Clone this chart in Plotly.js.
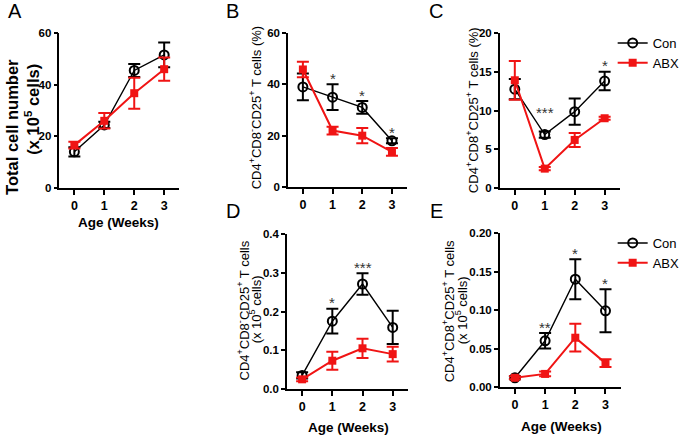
<!DOCTYPE html>
<html>
<head>
<meta charset="utf-8">
<script src="https://cdn.plot.ly/plotly-3.0.1.min.js"></script>
<style>
html,body{margin:0;padding:0;background:#fff;}
#chart{width:685px;height:435px;}
</style>
</head>
<body>
<div id="chart"></div>
<script>
// ---- data ----
const weeks = [0, 1, 2, 3];
const weekLabels = ['0', '1', '2', '3'];
const groupNames = ['Con', 'ABX'];

// Panel A: total cell number (x 10^5 cells)
const conA = [14, 24.4, 45.5, 51.5];
const conAErr = [1.8, 1.2, 2.5, 4.8];
const abxA = [16.6, 26, 36.7, 46];
const abxAErr = [1.3, 3, 6, 4.5];

// Panel B: CD4+CD8-CD25+ T cells (%)
const conB = [39, 35, 31, 18];
const conBErr = [5.2, 5, 2.5, 1];
const abxB = [45.8, 22, 20, 13.7];
const abxBErr = [3, 1.5, 3, 1.5];
const starsB = ['', '*', '*', '*'];

// Panel C: CD4+CD8+CD25+ T cells (%)
const conC = [12.75, 6.9, 9.85, 13.8];
const conCErr = [1.3, 0.4, 1.7, 1.2];
const abxC = [13.9, 2.5, 6.2, 9.0];
const abxCErr = [2.5, 0.2, 0.9, 0.2];
const starsC = ['', '***', '', '*'];

// Panel D: CD4+CD8-CD25+ T cells (x 10^5 cells)
const conD = [0.035, 0.175, 0.271, 0.159];
const conDErr = [0.008, 0.032, 0.028, 0.043];
const abxD = [0.025, 0.073, 0.105, 0.09];
const abxDErr = [0.005, 0.023, 0.025, 0.019];
const starsD = ['', '*', '***', ''];

// Panel E: CD4+CD8+CD25+ T cells (x 10^5 cells)
const conE = [0.012, 0.06, 0.14, 0.099];
const conEErr = [0.002, 0.01, 0.026, 0.028];
const abxE = [0.012, 0.017, 0.064, 0.031];
const abxEErr = [0.002, 0.003, 0.018, 0.005];
const starsE = ['', '**', '*', '*'];

const yTicksA = [0, 20, 40, 60];
const yTicksB = [0, 20, 40, 60];
const yTicksC = [0, 5, 10, 15, 20];
const yTicksD = [0, 0.1, 0.2, 0.3, 0.4];
const yTicksE = [0, 0.05, 0.10, 0.15, 0.20];

// ---- layout helpers ----
const W = 685, H = 435;
const px = x => x / W;
const py = y => 1 - y / H;
const FONT = 'Liberation Sans, Arial, Helvetica, sans-serif';
const RED = '#f01414';

const panels = [
  {id: '',  con: conA, conErr: conAErr, abx: abxA, abxErr: abxAErr, stars: null,  ticks: yTicksA, fmt: 'd',   x0: 60,  x1: 181, yTop: 33,  yBot: 188, legend: null},
  {id: '2', con: conB, conErr: conBErr, abx: abxB, abxErr: abxBErr, stars: starsB, ticks: yTicksB, fmt: 'd',   x0: 291, x1: 411, yTop: 33,  yBot: 187, legend: null},
  {id: '3', con: conC, conErr: conCErr, abx: abxC, abxErr: abxCErr, stars: starsC, ticks: yTicksC, fmt: 'd',   x0: 505, x1: 626, yTop: 33,  yBot: 188, legend: 'legend'},
  {id: '4', con: conD, conErr: conDErr, abx: abxD, abxErr: abxDErr, stars: starsD, ticks: yTicksD, fmt: '.1f', x0: 290, x1: 412, yTop: 234, yBot: 389, legend: null},
  {id: '5', con: conE, conErr: conEErr, abx: abxE, abxErr: abxEErr, stars: starsE, ticks: yTicksE, fmt: '.2f', x0: 505, x1: 627, yTop: 233, yBot: 387, legend: 'legend2'}
];

const traces = [];
const layout = {
  width: W, height: H,
  margin: {l: 0, r: 0, t: 0, b: 0},
  paper_bgcolor: '#fff', plot_bgcolor: 'rgba(0,0,0,0)',
  font: {family: FONT, color: '#000'},
  showlegend: true,
  annotations: []
};

panels.forEach(p => {
  const xa = 'x' + p.id, ya = 'y' + p.id;
  const xKey = 'xaxis' + p.id, yKey = 'yaxis' + p.id;
  const common = {
    showline: true, linewidth: 1.6, linecolor: '#000',
    ticks: 'outside', ticklen: 5, tickwidth: 1.6, tickcolor: '#000',
    showgrid: false, zeroline: false, fixedrange: true,
    tickfont: {family: FONT, size: 11.5, weight: 700, color: '#000'}
  };
  layout[xKey] = Object.assign({}, common, {
    domain: [px(p.x0), px(p.x1)], anchor: ya,
    range: [-0.5, 3.5], tickvals: weeks, ticktext: weekLabels,
    tickfont: {family: FONT, size: 12.5, weight: 700, color: '#000'}
  });
  layout[yKey] = Object.assign({}, common, {
    domain: [py(p.yBot), py(p.yTop)], anchor: xa,
    range: [p.ticks[0], p.ticks[p.ticks.length - 1]],
    tickvals: p.ticks, tickformat: p.fmt, ticklen: 4
  });

  traces.push({
    type: 'scatter', mode: 'lines+markers', name: groupNames[0],
    x: weeks, y: p.con, xaxis: xa, yaxis: ya, cliponaxis: false,
    line: {color: '#000', width: 1.4},
    marker: {symbol: 'circle-open', size: 9, color: '#000', line: {width: 2, color: '#000'}},
    error_y: {type: 'data', array: p.conErr, visible: true, color: '#000', thickness: 2, width: 6},
    showlegend: !!p.legend, legend: p.legend || 'legend'
  });
  traces.push({
    type: 'scatter', mode: 'lines+markers', name: groupNames[1],
    x: weeks, y: p.abx, xaxis: xa, yaxis: ya, cliponaxis: false,
    line: {color: RED, width: 2},
    marker: {symbol: 'square', size: 8, color: RED},
    error_y: {type: 'data', array: p.abxErr, visible: true, color: RED, thickness: 2, width: 6},
    showlegend: !!p.legend, legend: p.legend || 'legend'
  });

  if (p.stars) {
    p.stars.forEach((s, i) => {
      if (!s) return;
      const top = p.con[i] + p.conErr[i];
      const special = (p.id === '3' && i === 1); // sits higher in the reference
      layout.annotations.push({
        xref: xa, yref: ya, x: weeks[i], y: top,
        text: s, showarrow: false, xanchor: 'center', yanchor: 'middle',
        yshift: special ? 19 : 6,
        font: {family: FONT, size: 15, color: '#333'}
      });
    });
  }
});

const legendCommon = {
  xanchor: 'left', yanchor: 'top', bgcolor: 'rgba(0,0,0,0)',
  font: {family: FONT, size: 13, color: '#000'}, tracegroupgap: 0, itemwidth: 30
};
layout.legend = Object.assign({}, legendCommon, {x: px(619), y: py(28)});
layout.legend2 = Object.assign({}, legendCommon, {x: px(619), y: py(228)});

// panel letters
[['A', 15, 11], ['B', 235, 11], ['C', 441, 11], ['D', 235, 211], ['E', 441, 211]].forEach(([t, x, y]) => {
  layout.annotations.push({xref: 'paper', yref: 'paper', x: px(x), y: py(y), text: t, showarrow: false,
    xanchor: 'center', yanchor: 'middle', font: {family: FONT, size: 20, color: '#000'}});
});

// y-axis titles (rotated)
const yTitles = [
  ['Total cell number', 12, 127, 16.5, 700],
  ['(x 10<sup>5</sup> cells)', 32, 109, 16.5, 700],
  ['CD4<sup>+</sup>CD8<sup>-</sup>CD25<sup>+</sup> T cells (%)', 258, 108, 13, 400],
  ['CD4<sup>+</sup>CD8<sup>+</sup>CD25<sup>+</sup> T cells (%)', 477, 110, 13, 400],
  ['CD4<sup>+</sup>CD8<sup>-</sup>CD25<sup>+</sup> T cells', 246, 310, 13, 400],
  ['(x 10<sup>5</sup> cells)', 258, 309, 13, 400],
  ['CD4<sup>+</sup>CD8<sup>+</sup>CD25<sup>+</sup> T cells', 453, 311, 13, 400],
  ['(x 10<sup>5</sup> cells)', 466, 310, 13, 400]
];
yTitles.forEach(([t, x, y, s, w]) => {
  layout.annotations.push({xref: 'paper', yref: 'paper', x: px(x), y: py(y), text: t, showarrow: false,
    textangle: -90, xanchor: 'center', yanchor: 'middle',
    font: {family: FONT, size: s, weight: w, color: '#000'}});
});

// x-axis titles
[['Age (Weeks)', 120, 223], ['Age (Weeks)', 352, 427], ['Age (Weeks)', 567, 426]].forEach(([t, x, y]) => {
  layout.annotations.push({xref: 'paper', yref: 'paper', x: px(x), y: py(y), text: t, showarrow: false,
    xanchor: 'center', yanchor: 'middle', font: {family: FONT, size: 13.5, weight: 700, color: '#000'}});
});

Plotly.newPlot('chart', traces, layout, {displayModeBar: false});
</script>
</body>
</html>
